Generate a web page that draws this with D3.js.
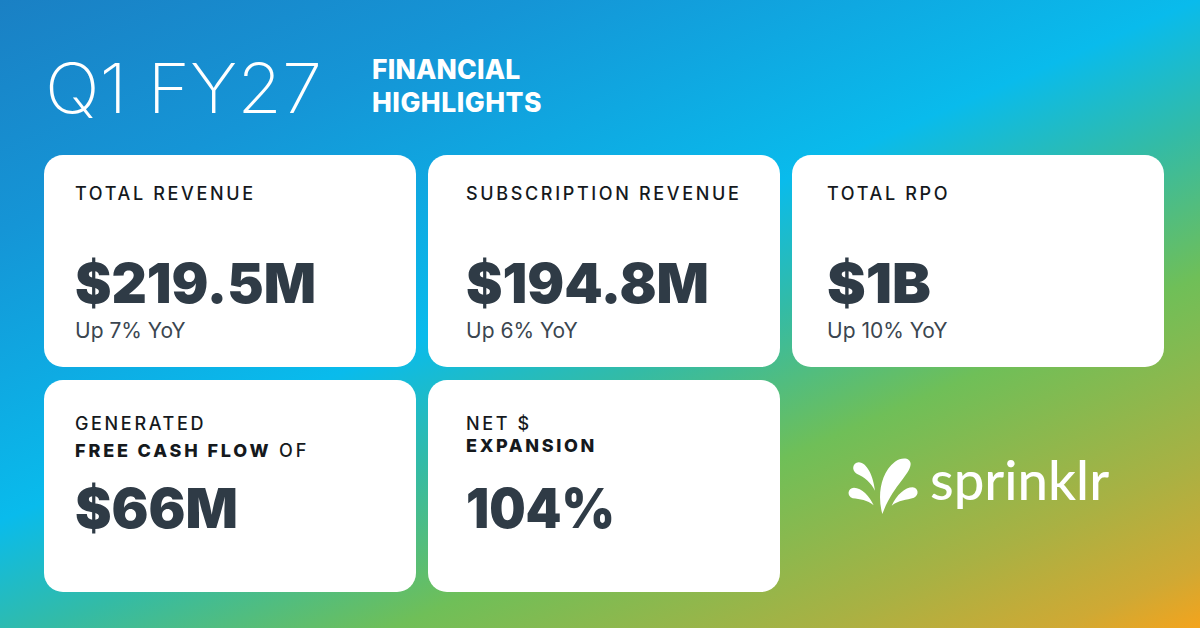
<!DOCTYPE html>
<html><head><meta charset="utf-8">
<script src="https://cdn.jsdelivr.net/npm/d3@7"></script>
<style>html,body{margin:0;padding:0;background:#fff}svg{display:block}text{font-family:Inter,"Noto Sans",sans-serif}</style>
</head><body><svg id="c" width="1200" height="628"></svg>
<script>
const titleText = "Q1 FY27";
const subtitleLines = ["FINANCIAL", "HIGHLIGHTS"];
const cardColumns = [0, 1, 2, 0, 1];
const cardRows = [0, 0, 0, 1, 1];
const cardLabels = [
  [[["TOTAL REVENUE", 500]]],
  [[["SUBSCRIPTION REVENUE", 500]]],
  [[["TOTAL RPO", 500]]],
  [[["GENERATED", 500]], [["FREE CASH FLOW", 800], [" OF", 500]]],
  [[["NET $", 500]], [["EXPANSION", 800]]]
];
const cardValues = ["$219.5M", "$194.8M", "$1B", "$66M", "104%"];
const cardNotes = ["Up 7% YoY", "Up 6% YoY", "Up 10% YoY", "", ""];
const brandName = "sprinklr";

const svg = d3.select("#c");
const defs = svg.append("defs");
const n = [0.40, 0.92], L = 1058;
const stops = [[0,"#1a80c4"],[0.2,"#1595d6"],[0.45,"#09bbec"],[0.56,"#33bba6"],[0.69,"#6fbf58"],[0.85,"#a9b143"],[0.94,"#cfa934"],[1,"#f8a31a"]];
const grad = defs.append("linearGradient").attr("id","bg").attr("gradientUnits","userSpaceOnUse")
  .attr("x1",0).attr("y1",0).attr("x2",n[0]*L).attr("y2",n[1]*L);
grad.selectAll("stop").data(stops).join("stop").attr("offset",d=>d[0]).attr("stop-color",d=>d[1]);
svg.append("rect").attr("width",1200).attr("height",628).attr("fill","url(#bg)");

svg.append("text").attr("x",45).attr("y",113).attr("fill","#fff")
  .attr("font-size",69).attr("font-weight",200).attr("textLength",277).attr("lengthAdjust","spacingAndGlyphs").text(titleText);
svg.selectAll(".sub").data(subtitleLines).join("text").attr("class","sub")
  .attr("x",372).attr("y",(d,i)=>79+i*33).attr("fill","#fff")
  .attr("font-size",26.5).attr("font-weight",800).attr("letter-spacing",(d,i)=>i?0.5:0.2).text(d=>d);

const colX = d3.scaleOrdinal().domain([0,1,2]).range([44,428,792]);
const colW = d3.scaleOrdinal().domain([0,1,2]).range([372,352,372]);
const rowY = d3.scaleOrdinal().domain([0,1]).range([155,380]);
const valueWidths = [241, 243, 104, 163, 149];
const cards = svg.selectAll(".card").data(cardValues).join("g").attr("class","card")
  .attr("transform",(d,i)=>`translate(${colX(cardColumns[i])},${rowY(cardRows[i])})`);
cards.append("rect").attr("width",(d,i)=>colW(cardColumns[i])).attr("height",212).attr("rx",19).attr("fill","#fff");
const padX = c => c===0?31:c===1?38:35;
cards.each(function(d,i){
  const g = d3.select(this), x = padX(cardColumns[i]), two = cardLabels[i].length>1;
  cardLabels[i].forEach((line,j)=>{
    const t = g.append("text").attr("x",x).attr("y",two?(50+j*(i===3?27:22)):45)
      .attr("font-size",18).attr("letter-spacing",(i===3&&j===1)?2.85:2.65).attr("fill","#15191d");
    t.selectAll("tspan").data(line).join("tspan").attr("font-weight",s=>s[1]).style("white-space","pre").text(s=>s[0]);
  });
  g.append("text").attr("x",x).attr("y",148).attr("font-size",55).attr("font-weight",900)
    .attr("textLength",valueWidths[i]).attr("lengthAdjust","spacingAndGlyphs").attr("fill","#2f3b46").text(d);
  if(cardNotes[i]) g.append("text").attr("x",x).attr("y",183).attr("font-size",21).attr("font-weight",400)
    .attr("fill","#3b4650").text(cardNotes[i]);
});

const mark = svg.append("g").attr("transform","translate(840,450) scale(0.3333)").attr("fill","#fff");
mark.selectAll("path").data([
  "M127 192C112 140 120 70 165 35C185 20 212 22 212 42C210 75 160 105 127 192Z",
  "M105 122C92 97 75 82 50 71C34 62 37 38 56 37C82 38 100 80 105 122Z",
  "M101 166C82 150 60 148 38 145C20 138 22 115 42 113C65 113 90 140 101 166Z",
  "M155 167C170 135 195 112 218 112C236 114 238 136 222 143C200 150 175 150 155 167Z"
]).join("path").attr("d",d=>d);
svg.append("text").attr("x",930).attr("y",500).attr("fill","#fff").attr("font-size",54.5)
  .attr("font-weight",500).style("font-family","Lato").text(brandName);
</script></body></html>
